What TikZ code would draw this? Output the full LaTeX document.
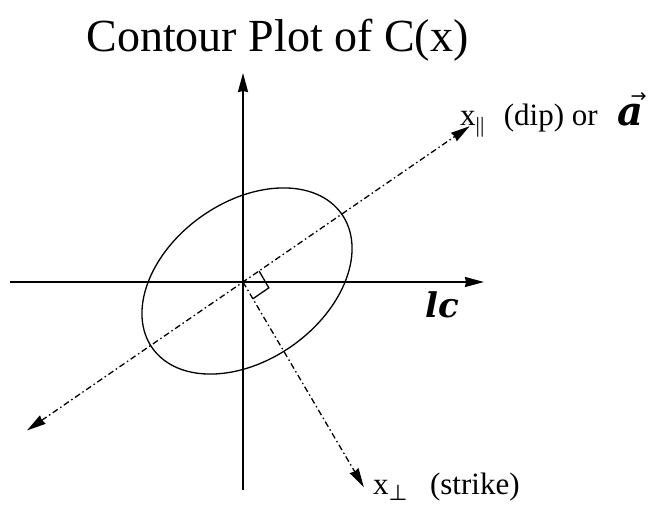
\documentclass[tikz,border=0pt]{standalone}
\usepackage{fontspec}
\setmainfont{Liberation Serif}
\newfontfamily\boldital{DejaVu Serif}
\newfontfamily\symb{DejaVu Sans}
\usetikzlibrary{arrows.meta}

\begin{document}
\begin{tikzpicture}[line cap=butt,line join=miter,x=1pt,y=1pt,
		>={Stealth[length=19pt,width=10pt,inset=1pt]},
		font=\fontsize{31}{36}\selectfont]
		\tikzset{declare function={xmin=-233;xmax=241;ymin=-208;ymax=209;},
			axis/.style={line width=1.8pt},
			trace/.style={line width=1.3pt,dash pattern=on 6pt off 3pt on 1.5pt off 3pt},
			boldlab/.style={font=\fontsize{34}{38}\selectfont\boldital\bfseries\itshape}
		}
		\useasboundingbox (-243,-224) rectangle (408,282);
		\coordinate (O) at (0,0);
		\coordinate (xl) at (xmin,0);
		\coordinate (xr) at (xmax,0);
		\coordinate (yb) at (0,ymin);
		\coordinate (yt) at (0,ymax);
		\coordinate (dipA) at (214.5:262);
		\coordinate (dipB) at (34.5:275);
		\coordinate (strk) at (-59.5:238);
		% axes
		\draw[axis,->] (xl)--(xr);
		\draw[axis,->] (yb)--(yt);
		% contour
		\draw[line width=1.3pt,rotate around={35.4:(4,1)}] (4,1) ellipse [x radius=116,y radius=79];
		% dip and strike
		\draw[trace,<->] (dipA)--(dipB);
		\draw[trace,->] (O)--(strk);
		\draw[line width=1.3pt] (34.5:19.5) --++(-60:19.5) --++(214.5:19.5);
		% labels
		\node[anchor=base] (title) at (34.5,230){\fontsize{46}{50}\selectfont Contour Plot of C(x)};
		\node[anchor=base west,inner sep=0pt] (diplab) at (217,156){x\textsubscript{||}\hspace{19pt}(dip) or\hspace{20pt}{\boldital\bfseries\itshape\fontsize{40}{40}\selectfont a}\llap{\raisebox{23pt}{\symb\fontsize{19}{19}\selectfont →}\kern-3pt}};
		\node[boldlab,anchor=base,inner sep=0pt] (lc) at (199,-36){lc};
		\node[anchor=base west,inner sep=0pt] (strlab) at (130,-212){x\textsubscript{\symb ⊥}\hspace{22pt}(strike)};
	\end{tikzpicture}
\end{document}
